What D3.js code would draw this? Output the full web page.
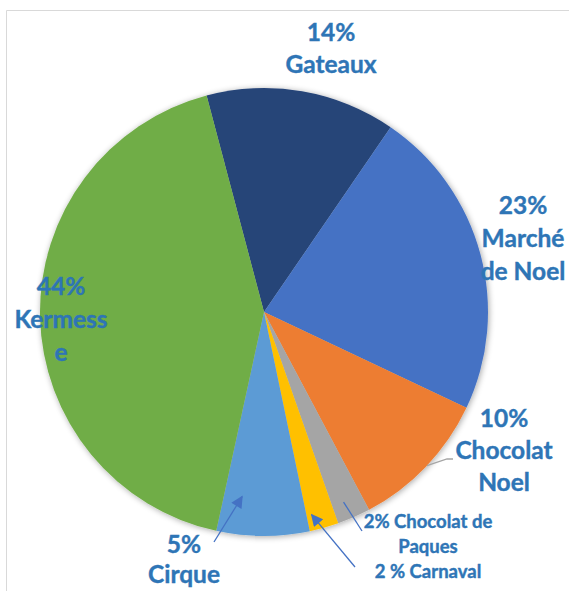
<!DOCTYPE html>
<html>
<head>
<meta charset="utf-8">
<script src="https://cdn.jsdelivr.net/npm/d3@7"></script>
<style>
  body { margin: 0; background: #fff; }
  svg { display: block; }
</style>
</head>
<body>
<script>
const width = 569;
const height = 591;

// slice order, clockwise from the top
const categories = ["Gateaux", "Marché de Noel", "Chocolat Noel", "Chocolat de Paques", "Carnaval", "Cirque", "Kermesse"];
// shares as drawn in the picture
const values = [13.7, 22.5, 10.2, 2.4, 2.1, 6.7, 42.5];
// label text, as typed on the chart
const labelLines = [
  ["14%", "Gateaux"],
  ["23%", "Marché", "de Noel"],
  ["10%", "Chocolat", "Noel"],
  ["2% Chocolat de", "Paques"],
  ["2 % Carnaval"],
  ["5%", "Cirque"],
  ["44%", "Kermess", "e"]
];
const colors = ["#264478", "#4472C4", "#ED7D31", "#A5A5A5", "#FFC000", "#5B9BD5", "#70AD47"];

// layout of labels (moved by hand on the original)
const cx = 264, cy = 312, radius = 224;
const labelLayout = [
  {x: 331, y: 41, size: 24.5, lh: 32},
  {x: 523, y: 214, size: 24.5, lh: 33},
  {x: 504, y: 427, size: 24.5, lh: 32},
  {x: 428, y: 528, size: 18.5, lh: 25},
  {x: 428, y: 578, size: 18.5, lh: 25},
  {x: 184, y: 553, size: 24.5, lh: 30},
  {x: 61, y: 295, size: 24.5, lh: 33}
];
// leader lines: t = position inside slice, r = share of radius, tail = end near label
const leaders = [
  null,
  null,
  {t: 0.49, r: 1.0, tail: [[447, 459], [453, 459]], color: "#A5A5A5", arrow: false},
  {t: 0.61, r: 0.92, tail: [[362, 531]], color: "#4472C4", arrow: false},
  {t: 0.81, r: 0.93, tail: [[355, 567]], color: "#4472C4", arrow: true},
  {t: 0.77, r: 0.83, tail: [[214, 542]], color: "#4472C4", arrow: true},
  null
];

const rad = d => d * Math.PI / 180;

const svg = d3.select("body").append("svg")
  .attr("width", width)
  .attr("height", height);

const defs = svg.append("defs");
const shadow = defs.append("filter").attr("id", "shadow")
  .attr("x", "-10%").attr("y", "-10%").attr("width", "120%").attr("height", "120%");
shadow.append("feGaussianBlur").attr("in", "SourceAlpha").attr("stdDeviation", 3).attr("result", "blur");
shadow.append("feOffset").attr("dx", 1).attr("dy", 1).attr("result", "off");
shadow.append("feComponentTransfer").append("feFuncA").attr("type", "linear").attr("slope", 0.35);
const merge = shadow.append("feMerge");
merge.append("feMergeNode");
merge.append("feMergeNode").attr("in", "SourceGraphic");

defs.append("marker").attr("id", "arrow")
  .attr("viewBox", "0 0 10 10").attr("refX", 9).attr("refY", 5)
  .attr("markerWidth", 13).attr("markerHeight", 12)
  .attr("markerUnits", "userSpaceOnUse")
  .attr("orient", "auto")
  .append("path").attr("d", "M0,0L10,5L0,10Z").attr("fill", "#4472C4");

// chart frame
svg.append("path")
  .attr("d", `M6.5,${height}V10.5H${width}`)
  .attr("fill", "none")
  .attr("stroke", "#D9D9D9")
  .attr("stroke-width", 1);

const pie = d3.pie().sort(null)
  .startAngle(rad(-14.85))
  .endAngle(rad(345.15));
const arcs = pie(values);
const arc = d3.arc().innerRadius(0).outerRadius(radius);

const g = svg.append("g").attr("transform", `translate(${cx},${cy})`);
g.append("g").attr("filter", "url(#shadow)")
  .selectAll("path")
  .data(arcs)
  .join("path")
  .attr("d", arc)
  .attr("fill", (d, i) => colors[i]);

// leader lines
arcs.forEach((a, i) => {
  const L = leaders[i];
  if (!L) return;
  const ang = a.startAngle + (a.endAngle - a.startAngle) * L.t;
  const p = d3.pointRadial(ang, radius * L.r);
  const tip = [p[0] + cx, p[1] + cy];
  const pts = L.arrow ? [...L.tail.slice().reverse(), tip] : [tip, ...L.tail];
  svg.append("path")
    .attr("d", d3.line()(pts))
    .attr("fill", "none")
    .attr("stroke", L.color)
    .attr("stroke-width", 1.3)
    .attr("marker-end", L.arrow ? "url(#arrow)" : null);
});

// labels
labelLines.forEach((lines, i) => {
  const lay = labelLayout[i];
  const t = svg.append("text")
    .attr("text-anchor", "middle")
    .attr("font-family", "Lato, 'Open Sans', sans-serif")
    .attr("font-weight", "bold")
    .attr("font-size", lay.size)
    .attr("fill", "#2E75B6")
    .attr("stroke", "#2E75B6")
    .attr("stroke-width", 0.4);
  lines.forEach((s, j) => {
    t.append("tspan")
      .attr("x", lay.x)
      .attr("y", lay.y + j * lay.lh)
      .text(s);
  });
});
</script>
</body>
</html>
